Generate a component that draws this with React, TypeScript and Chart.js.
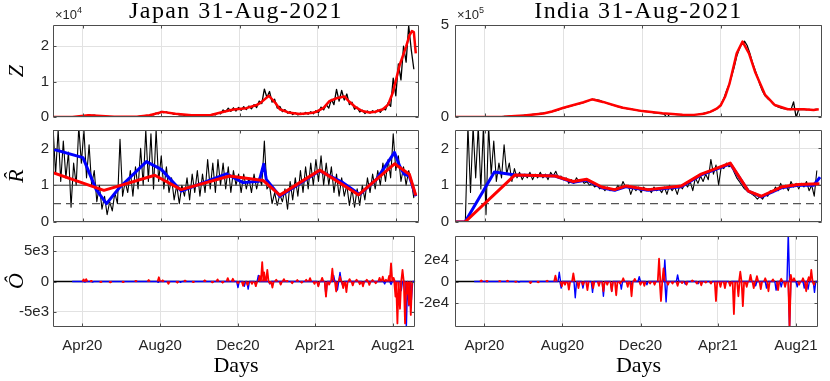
import React, { useEffect, useRef } from 'react';
import { Chart, registerables } from 'chart.js';

Chart.register(...registerables);

// ---------------- axis definitions ----------------
const STEP = 4; // days between stored samples of the daily (black) series
const X_MIN = 0; // day 0 = 15-Feb-2020
const X_MAX = 568;
const X_TICKS = [46, 168, 290, 411, 533];
const X_LABELS = ['Apr20', 'Aug20', 'Dec20', 'Apr21', 'Aug21'];

// ---------------- Japan ----------------
const jpZObs = [
  10, 5, 15, 10, 25, 20, 40, 30, 60, 40,
  120, 90, 350, 300, 600, 420, 500, 300, 350, 180,
  200, 80, 100, 40, 50, 30, 50, 40, 60, 40,
  80, 60, 120, 90, 250, 200, 420, 350, 700, 600,
  1100, 900, 1600, 1200, 1450, 1000, 1100, 750, 900, 600,
  650, 450, 600, 400, 550, 350, 600, 400, 600, 450,
  650, 500, 750, 600, 1200, 900, 2000, 1500, 2500, 1600,
  2600, 1700, 2700, 1900, 2900, 2100, 3100, 2300, 3500, 2700,
  4500, 3800, 7900, 5500, 7200, 4200, 5000, 2500, 3000, 1500,
  2100, 1100, 1500, 700, 1200, 600, 1100, 700, 1300, 800,
  1500, 900, 1800, 1200, 2800, 2000, 3500, 2500, 5000, 3500,
  7800, 4500, 7500, 4800, 6500, 3500, 4200, 2200, 2800, 1400,
  1900, 1000, 1700, 1100, 1800, 1200, 2000, 1300, 2400, 2000,
  4000, 3000, 11000, 6000, 15000, 10500, 20000, 15500, 25800, 19000,
  13500,
];
const jpZFitDays = [0, 30, 55, 75, 95, 130, 150, 170, 190, 215, 245, 265, 280, 300, 315, 322, 335, 345, 352, 365, 383, 400, 409, 420, 429, 440, 452, 460, 470, 480, 491, 500, 512, 520, 527, 533, 538, 548, 553, 557, 560, 563];
const jpZFit = [0, 30, 480, 250, 60, 100, 500, 1450, 900, 500, 550, 1500, 2100, 2500, 3300, 4000, 6000, 4000, 2200, 1300, 850, 1100, 1500, 2600, 4500, 5300, 5800, 4300, 2700, 1700, 1300, 1500, 2200, 3500, 6700, 11000, 14700, 19900, 23000, 24300, 24000, 18000];

const jpRObs = [
  2.6, 1.3, 2.5, 1.1, 2.2, 1.2, 1.9, 0.4, 1.6, 1.0,
  2.6, 1.6, 2.5, 1.2, 2.1, 1.0, 1.4, 0.55, 1.0, 0.35,
  0.7, 0.2, 0.55, 0.3, 0.8, 0.5, 2.25, 0.7, 1.1, 0.8,
  1.4, 0.7, 1.5, 0.9, 2.0, 1.0, 2.5, 1.1, 2.4, 0.9,
  2.5, 1.1, 1.8, 0.9, 1.5, 0.8, 1.2, 0.6, 1.0, 0.5,
  1.0, 0.7, 1.2, 0.6, 1.3, 0.8, 1.4, 0.7, 1.3, 0.8,
  1.7, 0.9, 1.6, 0.8, 1.7, 1.0, 1.6, 0.9, 1.5, 0.8,
  1.4, 1.0, 1.3, 0.8, 1.3, 0.9, 1.2, 0.8, 1.3, 0.9,
  1.2, 1.0, 2.2, 0.9, 1.0, 0.5, 0.8, 0.45, 0.75, 0.55,
  0.9, 0.35, 1.1, 0.6, 1.2, 0.7, 1.4, 0.8, 1.5, 0.9,
  1.6, 1.0, 1.7, 1.1, 1.8, 1.0, 1.6, 1.0, 1.5, 0.8,
  1.3, 0.7, 1.2, 0.7, 1.0, 0.45, 0.9, 0.4, 0.9, 0.45,
  1.0, 0.6, 1.2, 0.8, 1.3, 0.9, 1.4, 1.0, 1.6, 1.1,
  1.7, 1.2, 2.4, 1.4, 1.8, 1.1, 1.5, 1.0, 1.4, 1.1,
  0.65,
];
const jpRBlueDays = [0, 46.5, 67, 83, 103, 145, 168, 199, 269, 295, 320, 327, 331, 352, 414, 450, 476, 502, 530, 538, 545, 553, 563];
const jpRBlue = [1.98, 1.75, 0.88, 0.5, 0.93, 1.64, 1.43, 0.84, 1.31, 1.07, 1.11, 1.57, 1.16, 0.7, 1.39, 1.07, 0.75, 1.16, 1.89, 1.52, 1.3, 1.25, 0.7];
const jpRRedDays = [0, 79, 158, 199, 274, 326, 352, 414, 474, 530, 553, 563];
const jpRRed = [1.34, 0.86, 1.27, 0.88, 1.25, 1.13, 0.73, 1.41, 0.74, 1.58, 1.3, 0.72];

const jpORedDays = [48, 52, 60, 75, 90, 110, 130, 150, 166, 172, 181, 195, 207, 220, 238, 250, 258, 266, 274, 282, 290, 298, 305, 312, 318, 324, 328, 331, 336, 340, 344, 350, 357, 362, 367, 375, 383, 390, 397, 403, 410, 416, 422, 428, 433, 438, 444, 450, 455, 460, 465, 470, 476, 481, 486, 492, 496, 501, 506, 512, 517, 522, 527, 530, 534, 537, 540, 544, 548, 552, 555, 558, 561];
const jpORed = [350, 400, 100, -100, -150, -100, 100, 250, 700, 200, -380, -200, 150, -100, 200, -150, 350, -200, 550, 450, -300, -700, -550, -400, -770, 900, 3200, 1500, 1900, -300, -1000, 300, -500, 400, 100, -300, 250, -200, 300, 550, -400, -800, 600, -2500, -500, 2100, -1650, 800, -1100, -1750, 400, -650, 300, -450, -800, 300, -550, 250, -300, 600, 800, 300, 900, 3000, 600, -2500, -6900, -4500, 1900, -6900, -2000, -3800, -5500];
const jpOBlueDays = [50, 62, 165, 200, 290, 300, 306, 318, 322, 340, 416, 428, 440, 446, 450, 455, 486, 520, 530, 546, 554, 558, 562];
const jpOBlue = [-80, -100, -150, -150, -1000, -800, -1250, -600, 1000, -400, -700, -2400, 1000, -1400, 1500, -900, -600, -400, -500, -1500, -7600, -4000, -3000];

// ---------------- India ----------------
const inZObs = [
  0, 0, 0, 0, 0, 10, 30, 80, 100, 150, 300, 500,
  600, 900, 1100, 1300, 1600, 2000, 2500, 3000, 3600, 4500, 5200, 6000,
  6500, 7500, 8500, 9500, 10500, 12000, 13500, 15000, 16500, 19000, 21000, 23000,
  25000, 28000, 30000, 34000, 38000, 45000, 48000, 52000, 56000, 60000, 64000, 69000,
  72000, 76000, 80000, 86000, 90000, 94000, 96000, 93000, 90000, 84000, 80000, 74000,
  70000, 65000, 62000, 56000, 52000, 48000, 47000, 44000, 45000, 40000, 38000, 35000,
  33000, 31000, 30000, 28000, 26000, 23000, 22000, 20000, 18000, 16000, -5000, 15000,
  15000, 14000, 13000, 12500, 12000, 11500, 11000, 11000, 12000, 12500, 14000, 16000,
  20000, 23000, 26000, 30000, 35000, 42000, 55000, 70000, 100000, 140000, 175000, 220000,
  270000, 330000, 370000, 400000, 412000, 390000, 350000, 300000, 260000, 220000, 175000, 140000,
  115000, 100000, 90000, 72000, 62000, 55000, 50000, 46000, 44000, 42000, 40000, 82000,
  -3000, 42000, 40000, 42000, 39000, 41000, 37000, 40000, 43000,
];
const inZFitDays = [0, 46, 76, 93, 107, 137, 150, 168, 199, 212, 229, 250, 260, 290, 321, 352, 370, 385, 395, 405, 411, 418, 425, 436, 445, 455, 465, 480, 495, 515, 540, 555, 563];
const inZFit = [0, 500, 2000, 5000, 8000, 19000, 30000, 50000, 80000, 96000, 82000, 60000, 50000, 32000, 20000, 12000, 11500, 18000, 28000, 45000, 62000, 110000, 183000, 346000, 410000, 346000, 240000, 120000, 65000, 42000, 42000, 38000, 42000];

const inRObs = [
  0, 0, 0, 0, 0, 2.6, 0.8, 2.6, 1.2, 2.6,
  0.9, 2.6, 0.2, 2.6, 1.3, 2.2, 1.1, 1.6, 1.2, 2.1,
  1.3, 1.6, 1.1, 1.45, 1.2, 1.35, 1.15, 1.3, 1.2, 1.35,
  1.15, 1.3, 1.2, 1.35, 1.2, 1.3, 1.15, 1.35, 1.25, 1.38,
  1.2, 1.25, 1.15, 1.2, 1.05, 1.15, 1.05, 1.2, 1.1, 1.15,
  1.05, 1.1, 1.0, 1.05, 0.95, 1.0, 0.9, 0.95, 0.85, 0.95,
  0.85, 0.9, 0.85, 1.0, 0.9, 1.1, 0.95, 1.0, 0.75, 0.95,
  0.85, 0.95, 0.8, 0.95, 0.85, 0.9, 0.8, 0.95, 0.85, 0.9,
  0.8, 0.95, 0.75, 1.0, 0.85, 0.95, 0.75, 1.0, 0.9, 1.05,
  0.95, 1.1, 0.85, 1.2, 1.05, 1.25, 1.1, 1.3, 1.15, 1.7,
  1.3, 1.55, 1.0, 1.5, 1.45, 1.6, 1.5, 1.55, 1.35, 1.2,
  1.1, 1.0, 0.9, 0.85, 0.8, 0.75, 0.7, 0.62, 0.7, 0.62,
  0.75, 0.7, 0.85, 0.8, 0.95, 0.85, 1.05, 0.9, 1.0, 0.85,
  1.1, 0.95, 1.05, 0.9, 1.05, 0.95, 1.1, 0.85, 1.0, 0.7,
  1.4,
];
const inRBlueDays = [0, 15.5, 61, 85, 93, 155, 183, 204, 227, 247, 265, 299, 350, 381, 426, 454, 474, 505, 531, 555, 565];
const inRBlue = [0, 0, 1.36, 1.3, 1.28, 1.25, 1.08, 1.14, 0.93, 0.86, 0.96, 0.86, 0.96, 1.28, 1.58, 0.84, 0.68, 0.93, 1.0, 1.0, 1.22];
const inRRedDays = [0, 15.5, 93, 155, 183, 204, 227, 247, 265, 299, 350, 381, 426, 454, 474, 505, 531, 564];
const inRRed = [0, 0, 1.28, 1.25, 1.1, 1.16, 0.95, 0.88, 0.98, 0.88, 0.98, 1.3, 1.6, 0.84, 0.7, 0.95, 1.02, 1.04];

const inORedDays = [41, 50, 70, 82, 95, 118, 130, 144, 157, 167, 172, 178, 185, 193, 200, 207, 216, 225, 232, 238, 245, 252, 258, 263, 270, 276, 281, 290, 296, 305, 312, 319, 322, 326, 333, 340, 348, 355, 362, 371, 378, 385, 392, 400, 408, 415, 422, 430, 436, 443, 446, 450, 456, 462, 467, 472, 478, 485, 490, 497, 505, 510, 516, 523, 525, 530, 538, 544, 549, 553, 557, 561];
const inORed = [900, 600, 500, 800, -300, -1500, -800, 700, 5400, -4500, -3000, -7500, 7500, -6000, -3000, -8000, -6000, -4000, -9000, -3000, -9000, -12700, -2000, 3000, -5000, -13600, 2400, -3000, -4000, -2000, -3000, 21000, -18000, 12000, -3000, -2000, -4000, -1500, -3000, 1000, -2000, -3500, -1000, -2000, -18000, -5000, -6000, -4000, -30000, -13600, 9000, -22700, -5000, 6000, -6000, 5000, -7000, 3000, -9000, 2000, -8000, 2500, -5000, -42000, 6000, 3000, -3000, 3000, -9000, 4000, 10600, -3000];
const inOBlueDays = [50, 100, 163, 166, 188, 200, 215, 232, 245, 260, 275, 288, 300, 328, 330, 348, 360, 380, 400, 430, 470, 487, 502, 510, 521, 523, 535, 546, 552, 562];
const inOBlue = [-300, -500, 8500, -6000, -15000, -6000, -10000, -13600, -9000, -7000, -4000, 4500, -3000, 20000, -18800, 6000, -2500, -2000, -1500, -3000, -4000, -6000, -8000, -5000, 45000, -45000, -5000, -6000, -7000, -10000];

// ---------------- y-axis ticks ----------------
const jpZTicks = [0, 10000, 20000];
const jpZTickLabels = ['0', '1', '2'];
const inZTicks = [0, 500000];
const inZTickLabels = ['0', '5'];
const rTicks = [0, 1, 2];
const rTickLabels = ['0', '1', '2'];
const jpOTicks = [-5000, 0, 5000];
const jpOTickLabels = ['-5e3', '0', '5e3'];
const inOTicks = [-20000, 0, 20000];
const inOTickLabels = ['-2e4', '0', '2e4'];
const R_REF_SOLID = 1;
const R_REF_DASHED = 0.5;

// ---------------- styling ----------------
const BLACK = '#000000';
const BLUE = '#0000ff';
const RED = '#ff0000';
const GRID = '#e2e2e2';
const FRAME = '#4d4d4d';
const TXT = '#262626';
const SANS = '"Liberation Sans", Arial, Helvetica, sans-serif';
const SERIF = '"Liberation Serif", "Times New Roman", serif';

const YW = 50;
const PT = 16;
const PR = 6;

// ---------------- data builders ----------------
type Pt = { x: number; y: number | null };
const sampled = (vals: number[]): Pt[] => vals.map((y, i) => ({ x: X_MIN + i * STEP, y }));
const paired = (days: number[], vals: number[]): Pt[] => days.map((x, i) => ({ x, y: vals[i] }));
const constant = (y: number): Pt[] => [{ x: X_MIN, y }, { x: X_MAX, y }];
const spikesBroken = (days: number[], vals: number[]): Pt[] => {
  const pts: Pt[] = [];
  days.forEach((d, i) => {
    pts.push({ x: d - 2, y: 0 }, { x: d, y: vals[i] }, { x: d + 2, y: 0 }, { x: d + 2, y: null });
  });
  return pts;
};
const spikesJoined = (days: number[], vals: number[], start: number, end: number): Pt[] => {
  const pts: Pt[] = [{ x: start, y: 0 }];
  days.forEach((d, i) => {
    pts.push({ x: d - 2, y: 0 }, { x: d, y: vals[i] }, { x: d + 2, y: 0 });
  });
  pts.push({ x: end, y: 0 });
  return pts;
};

const line = (data: Pt[], color: string, width: number, extra: any = {}) => ({
  data,
  borderColor: color,
  backgroundColor: color,
  borderWidth: width,
  pointRadius: 0,
  fill: false,
  tension: 0,
  spanGaps: false,
  clip: 0,
  borderJoinStyle: 'round',
  ...extra,
});

type Panel = {
  key: string;
  x0: number;
  x1: number;
  y0: number;
  y1: number;
  xh: number;
  yMin: number;
  yMax: number;
  yTicks: number[];
  yLabels: string[];
  tickPad: number;
  showX: boolean;
  datasets: any[];
};

const COL_L = { x0: 53, x1: 419, tickPad: 4 };
const COL_R = { x0: 455, x1: 822, tickPad: 6 };
const ROW_Z = { y0: 25, y1: 117, xh: 16, showX: false };
const ROW_R = { y0: 130, y1: 222, xh: 16, showX: false };
const ROW_O = { y0: 236, y1: 327, xh: 40, showX: true };

const rDatasets = (obs: number[], bd: number[], bv: number[], rd: number[], rv: number[]) => [
  line(paired(rd, rv), RED, 3),
  line(paired(bd, bv), BLUE, 3),
  line(constant(R_REF_SOLID), '#3a3a3a', 1),
  line(constant(R_REF_DASHED), '#555555', 1.2, { borderDash: [8, 5] }),
  line(sampled(obs), BLACK, 1.1),
];

const panels: Panel[] = [
  {
    key: 'jpZ', ...COL_L, ...ROW_Z, yMin: 0, yMax: 26000, yTicks: jpZTicks, yLabels: jpZTickLabels,
    datasets: [line(paired(jpZFitDays, jpZFit), RED, 2.5), line(sampled(jpZObs), BLACK, 1.3)],
  },
  {
    key: 'jpR', ...COL_L, ...ROW_R, yMin: 0, yMax: 2.5, yTicks: rTicks, yLabels: rTickLabels,
    datasets: rDatasets(jpRObs, jpRBlueDays, jpRBlue, jpRRedDays, jpRRed),
  },
  {
    key: 'jpO', ...COL_L, ...ROW_O, yMin: -7500, yMax: 7500, yTicks: jpOTicks, yLabels: jpOTickLabels,
    datasets: [
      line(spikesBroken(jpORedDays, jpORed), RED, 1.8),
      line(spikesJoined(jpOBlueDays, jpOBlue, 30, 566), BLUE, 1.4),
      line(constant(0), BLACK, 1.4),
    ],
  },
  {
    key: 'inZ', ...COL_R, ...ROW_Z, yMin: 0, yMax: 500000, yTicks: inZTicks, yLabels: inZTickLabels,
    datasets: [line(paired(inZFitDays, inZFit), RED, 2.5), line(sampled(inZObs), BLACK, 1.3)],
  },
  {
    key: 'inR', ...COL_R, ...ROW_R, yMin: 0, yMax: 2.5, yTicks: rTicks, yLabels: rTickLabels,
    datasets: rDatasets(inRObs, inRBlueDays, inRBlue, inRRedDays, inRRed),
  },
  {
    key: 'inO', ...COL_R, ...ROW_O, yMin: -42000, yMax: 42000, yTicks: inOTicks, yLabels: inOTickLabels,
    datasets: [
      line(spikesBroken(inORedDays, inORed), RED, 1.8),
      line(spikesJoined(inOBlueDays, inOBlue, 30, 566), BLUE, 1.4),
      line(constant(0), BLACK, 1.4),
    ],
  },
];

// frame + inward tick marks, MATLAB style
const framePlugin = {
  id: 'frame',
  afterDraw(chart: any) {
    const { ctx, chartArea: a, scales } = chart;
    const L = Math.round(a.left) + 0.5;
    const R = Math.round(a.right) - 0.5;
    const T = Math.round(a.top) + 0.5;
    const B = Math.round(a.bottom) - 0.5;
    ctx.save();
    ctx.strokeStyle = FRAME;
    ctx.lineWidth = 1;
    ctx.beginPath();
    ctx.rect(L, T, R - L, B - T);
    const tl = 3;
    scales.x.ticks.forEach((t: any) => {
      const px = Math.round(scales.x.getPixelForValue(t.value)) + 0.5;
      ctx.moveTo(px, B);
      ctx.lineTo(px, B - tl);
      ctx.moveTo(px, T);
      ctx.lineTo(px, T + tl);
    });
    scales.y.ticks.forEach((t: any) => {
      const py = Math.round(scales.y.getPixelForValue(t.value)) + 0.5;
      ctx.moveTo(L, py);
      ctx.lineTo(L + tl, py);
      ctx.moveTo(R, py);
      ctx.lineTo(R - tl, py);
    });
    ctx.stroke();
    ctx.restore();
  },
};

function makeConfig(p: Panel): any {
  return {
    type: 'line',
    data: { datasets: p.datasets },
    options: {
      responsive: false,
      animation: false,
      devicePixelRatio: 1,
      events: [],
      layout: { padding: { top: PT, right: PR, left: 0, bottom: 0 } },
      plugins: { legend: { display: false }, tooltip: { enabled: false }, title: { display: false } },
      scales: {
        x: {
          type: 'linear',
          min: X_MIN,
          max: X_MAX,
          afterBuildTicks: (s: any) => {
            s.ticks = X_TICKS.map((value) => ({ value }));
          },
          afterFit: (s: any) => {
            s.height = p.xh;
          },
          grid: { color: GRID, lineWidth: 1, drawTicks: false },
          border: { display: false },
          ticks: {
            display: p.showX,
            autoSkip: false,
            maxRotation: 0,
            padding: 10,
            color: TXT,
            font: { family: SANS, size: 15 },
            callback: (v: number) => X_LABELS[X_TICKS.indexOf(v)] ?? '',
          },
        },
        y: {
          type: 'linear',
          min: p.yMin,
          max: p.yMax,
          afterBuildTicks: (s: any) => {
            s.ticks = p.yTicks.map((value) => ({ value }));
          },
          afterFit: (s: any) => {
            s.width = YW;
          },
          grid: { color: GRID, lineWidth: 1, drawTicks: false },
          border: { display: false },
          ticks: {
            autoSkip: false,
            padding: p.tickPad,
            color: TXT,
            font: { family: SANS, size: 15 },
            callback: (v: number) => p.yLabels[p.yTicks.indexOf(v)] ?? '',
          },
        },
      },
    },
    plugins: [framePlugin],
  };
}

function PanelChart({ p }: { p: Panel }) {
  const ref = useRef<HTMLCanvasElement>(null);
  const w = YW + (p.x1 - p.x0) + PR;
  const h = PT + (p.y1 - p.y0) + p.xh;
  useEffect(() => {
    const chart = new Chart(ref.current as HTMLCanvasElement, makeConfig(p));
    return () => chart.destroy();
  }, []);
  return (
    <canvas
      ref={ref}
      width={w}
      height={h}
      style={{ position: 'absolute', left: p.x0 - YW, top: p.y0 - PT, width: w, height: h }}
    />
  );
}

const abs = (style: React.CSSProperties): React.CSSProperties => ({ position: 'absolute', whiteSpace: 'nowrap', ...style });

function YTitle({ cy, children }: { cy: number; children: React.ReactNode }) {
  return (
    <div
      style={abs({
        left: 16,
        top: cy,
        transform: 'translate(-50%, -50%) rotate(-90deg)',
        fontFamily: SERIF,
        fontStyle: 'italic',
        fontSize: 22,
        lineHeight: '22px',
        color: '#000',
      })}
    >
      {children}
    </div>
  );
}

function Exponent({ left, exp }: { left: number; exp: string }) {
  return (
    <div style={abs({ left, top: 8, fontFamily: SANS, fontSize: 13, lineHeight: '13px', color: TXT })}>
      ×10<span style={{ fontSize: 9, position: 'relative', top: -6 }}>{exp}</span>
    </div>
  );
}

export default function App() {
  return (
    <div style={{ position: 'absolute', left: 0, top: 0, width: 830, height: 381, background: '#fff', overflow: 'hidden' }}>
      {panels.map((p) => (
        <PanelChart key={p.key} p={p} />
      ))}
      <div style={abs({ left: 53, width: 366, top: -2, textAlign: 'center', fontFamily: SERIF, fontSize: 24, lineHeight: '24px', letterSpacing: 1.4, color: '#000' })}>
        Japan 31-Aug-2021
      </div>
      <div style={abs({ left: 455, width: 367, top: -2, textAlign: 'center', fontFamily: SERIF, fontSize: 24, lineHeight: '24px', letterSpacing: 1.4, color: '#000' })}>
        India 31-Aug-2021
      </div>
      <Exponent left={55} exp="4" />
      <Exponent left={457} exp="5" />
      <YTitle cy={71}>Z</YTitle>
      <YTitle cy={176}>R̂</YTitle>
      <YTitle cy={281}>Ô</YTitle>
      <div style={abs({ left: 53, width: 366, top: 354, textAlign: 'center', fontFamily: SERIF, fontSize: 22, lineHeight: '22px', color: '#000' })}>
        Days
      </div>
      <div style={abs({ left: 455, width: 367, top: 354, textAlign: 'center', fontFamily: SERIF, fontSize: 22, lineHeight: '22px', color: '#000' })}>
        Days
      </div>
    </div>
  );
}
